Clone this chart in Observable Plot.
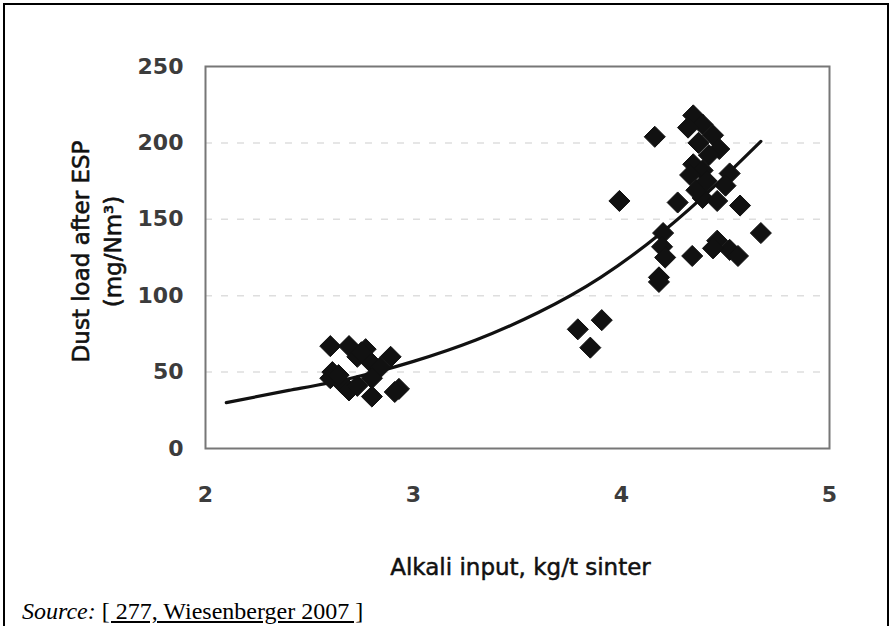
<!DOCTYPE html>
<html>
<head>
<meta charset="utf-8">
<script src="https://cdn.jsdelivr.net/npm/d3@7"></script>
<script src="https://cdn.jsdelivr.net/npm/@observablehq/plot@0.6"></script>
<style>
  html, body { margin: 0; padding: 0; background: #fff; overflow: hidden; width: 894px; height: 626px; }
  #page { position: relative; width: 894px; height: 626px; }
  #border { position: absolute; left: 3px; top: 3px; width: 886px; height: 700px; border: 2px solid #000; box-sizing: border-box; }
  #chart { position: absolute; left: 0; top: 0; }
  #caption { position: absolute; left: 22px; top: 597px; font-family: "Liberation Serif", "Times New Roman", serif; font-size: 24px; line-height: 28px; color: #000; white-space: nowrap; }
  #caption u { text-decoration: underline; }
</style>
</head>
<body>
<div id="page">
  <div id="border"></div>
  <div id="chart"></div>
  <div id="caption"><i>Source:</i> <u>[ 277, Wiesenberger 2007 ]</u></div>
</div>
<script>
// Measured points: alkali input (kg/t sinter) and dust load after ESP (mg/Nm3)
const alkali = [
  2.60, 2.69, 2.77, 2.73, 2.89, 2.79, 2.84, 2.61, 2.60, 2.66, 2.69, 2.80, 2.80, 2.93, 2.91, 2.73, 2.64, 2.75,
  3.79, 3.905, 3.85, 3.99, 4.16,
  4.345, 4.39, 4.32, 4.44, 4.47, 4.345, 4.39, 4.33, 4.52, 4.27, 4.39, 4.46, 4.57, 4.36, 4.67, 4.46, 4.52,
  4.56, 4.34, 4.44, 4.20, 4.195, 4.21, 4.18, 4.18, 4.41, 4.50, 4.42, 4.37
];
const dust = [
  67, 67, 65, 60, 60, 57, 53, 50, 46, 42, 38, 46, 34, 39, 37, 41, 48, 63,
  78, 84, 66, 162, 204,
  218, 212, 210, 205, 196, 186, 182, 179, 180, 161, 164, 162, 159, 169, 141, 136, 130,
  126, 126, 131, 141, 132, 125, 112, 109, 175, 172, 192, 200
];
// Trend curve
const curveX = [2.1, 2.4, 2.7, 3.0, 3.3, 3.6, 3.9, 4.2, 4.45, 4.67];
const curveY = [30, 38, 46, 57, 71, 89, 112, 142, 172, 201];
// Axis ticks
const xTicks = [2, 3, 4, 5];
const yTicks = [0, 50, 100, 150, 200, 250];
const gridTicks = [50, 100, 150, 200];

const points = alkali.map((x, i) => ({x, y: dust[i]}));
const curve = curveX.map((x, i) => ({x, y: curveY[i]}));

const plot = Plot.plot({
  width: 894,
  height: 600,
  marginLeft: 205,
  marginRight: 65,
  marginTop: 66,
  marginBottom: 152,
  style: {fontFamily: "DejaVu Sans", background: "transparent", overflow: "visible"},
  x: {domain: [2, 5], ticks: xTicks, tickSize: 0, tickPadding: 38, label: null, tickFormat: d => String(d)},
  y: {domain: [0, 250], ticks: yTicks, tickSize: 0, tickPadding: 22, label: null, tickFormat: d => String(d)},
  marks: [
    Plot.ruleY(gridTicks, {stroke: "#dedede", strokeWidth: 1.5, strokeDasharray: "7,9"}),
    Plot.frame({stroke: "#777", strokeWidth: 2}),
    Plot.axisX({ticks: xTicks, tickSize: 0, tickPadding: 38, fontSize: 22, fontWeight: "bold", fill: "#3c3c3c", label: null, tickFormat: d => String(d)}),
    Plot.axisY({ticks: yTicks, tickSize: 0, tickPadding: 22, fontSize: 22, fontWeight: "bold", fill: "#3c3c3c", label: null, tickFormat: d => String(d)}),
    Plot.line(curve, {x: "x", y: "y", curve: "natural", stroke: "#111", strokeWidth: 3.2}),
    Plot.dot(points, {x: "x", y: "y", symbol: "diamond2", r: 9.5, fill: "#111", stroke: "#111", strokeWidth: 1}),
    Plot.text(["Alkali input, kg/t sinter"], {frameAnchor: "bottom", dy: 119, dx: 3, fontSize: 23, fill: "#111", stroke: "#111", strokeWidth: 0.5, lineAnchor: "middle"}),
    Plot.text(["Dust load after ESP\n(mg/Nm³)"], {frameAnchor: "left", textAnchor: "middle", dx: -111, dy: -6, rotate: -90, fontSize: 23, fill: "#111", stroke: "#111", strokeWidth: 0.6, lineAnchor: "middle", lineHeight: 1.43})
  ]
});
document.getElementById("chart").appendChild(plot);
</script>
</body>
</html>
